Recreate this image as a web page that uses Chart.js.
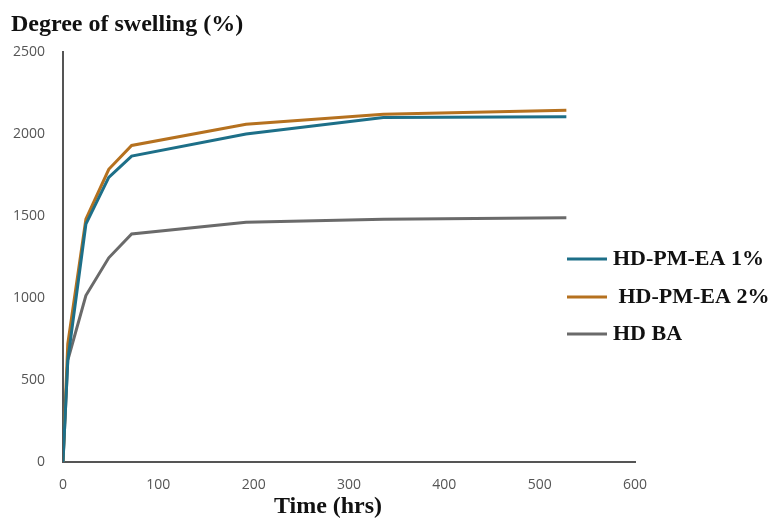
<!DOCTYPE html>
<html lang="en">
<head>
    <meta charset="UTF-8">
    <title>Degree of swelling</title>
    <script src="https://cdn.jsdelivr.net/npm/chart.js"></script>
    <style>
        html, body { margin: 0; padding: 0; background: #fff; }
        .chart-box { width: 783px; height: 521px; }
    </style>
</head>
<body>
    <div class="chart-box">
        <canvas id="swellingChart"></canvas>
    </div>

    <script>
        // Time points (hrs) and swelling values
        const hours = [0, 5, 24, 48, 72, 192, 336, 528];
        const pmEa1 = [0, 620, 1450, 1735, 1865, 2000, 2100, 2105];
        const pmEa2 = [0, 720, 1480, 1785, 1930, 2060, 2120, 2145];
        const hdBa = [0, 620, 1015, 1245, 1390, 1462, 1480, 1490];
        const seriesNames = ['HD-PM-EA 1%', ' HD-PM-EA 2%', 'HD BA'];
        const yTicks = [0, 500, 1000, 1500, 2000, 2500];
        const xTicks = [0, 100, 200, 300, 400, 500, 600];

        const toPoints = vals => hours.map((h, i) => ({ x: h, y: vals[i] }));

        // Title, axis title and legend drawn where the original figure has them
        const textPlugin = {
            id: 'figureText',
            afterDraw(chart) {
                const ctx = chart.ctx;
                ctx.save();
                ctx.fillStyle = '#111';
                ctx.textBaseline = 'middle';
                ctx.font = 'bold 24px "Liberation Serif"';
                ctx.textAlign = 'left';
                ctx.fillText('Degree of swelling (%)', 11, 25);

                ctx.textAlign = 'center';
                ctx.fillText('Time (hrs)', 328, 507);

                ctx.textAlign = 'left';
                const rows = [259, 297, 334];
                chart.data.datasets.forEach((ds, i) => {
                    ctx.strokeStyle = ds.borderColor;
                    ctx.lineWidth = 3;
                    ctx.beginPath();
                    ctx.moveTo(567, rows[i]);
                    ctx.lineTo(607, rows[i]);
                    ctx.stroke();
                    ctx.font = 'bold 22px "Liberation Serif"';
                    ctx.fillStyle = '#111';
                    ctx.fillText(ds.label, 613, rows[i]);
                });
                ctx.restore();
            }
        };

        const tickFont = { family: 'Open Sans', size: 14 };

        const ctx = document.getElementById('swellingChart').getContext('2d');
        const swellingChart = new Chart(ctx, {
            type: 'line',
            data: {
                datasets: [{
                    label: seriesNames[0],
                    data: toPoints(pmEa1),
                    borderColor: '#1d6f88',
                    borderWidth: 3,
                    pointRadius: 0,
                    tension: 0
                }, {
                    label: seriesNames[1],
                    data: toPoints(pmEa2),
                    borderColor: '#b5711f',
                    borderWidth: 3,
                    pointRadius: 0,
                    tension: 0
                }, {
                    label: seriesNames[2],
                    data: toPoints(hdBa),
                    borderColor: '#6a6a6a',
                    borderWidth: 3,
                    pointRadius: 0,
                    tension: 0
                }]
            },
            options: {
                responsive: true,
                maintainAspectRatio: false,
                animation: false,
                layout: { padding: { top: 52, right: 148, left: 0, bottom: 0 } },
                plugins: {
                    legend: { display: false },
                    tooltip: { enabled: false }
                },
                scales: {
                    x: {
                        type: 'linear',
                        min: 0,
                        max: 600,
                        afterBuildTicks: s => { s.ticks = xTicks.map(v => ({ value: v })); },
                        grid: { display: false, drawTicks: false },
                        border: { color: '#555', width: 2 },
                        ticks: { color: '#555', font: tickFont, padding: 15, callback: v => String(v) },
                        afterFit: s => { s.height = 59; }
                    },
                    y: {
                        min: 0,
                        max: 2500,
                        afterBuildTicks: s => { s.ticks = yTicks.map(v => ({ value: v })); },
                        grid: { display: false, drawTicks: false },
                        border: { color: '#555', width: 2 },
                        ticks: { color: '#555', font: tickFont, padding: 18, callback: v => String(v) },
                        afterFit: s => { s.width = 63; }
                    }
                }
            },
            plugins: [textPlugin]
        });
    </script>
</body>
</html>
